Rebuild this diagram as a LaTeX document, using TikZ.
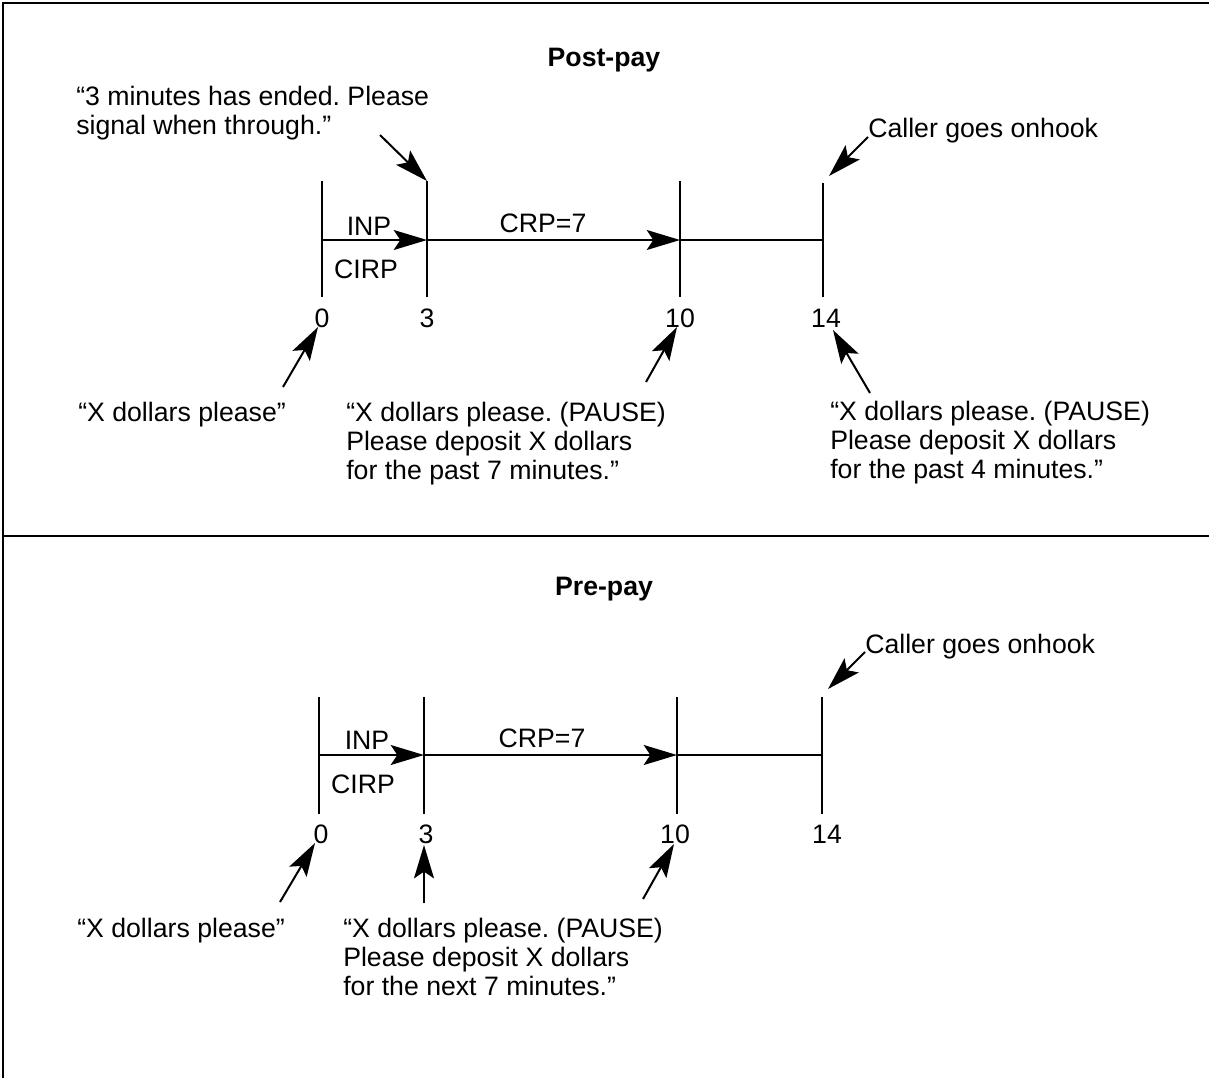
\documentclass[tikz,border=0pt]{standalone}
\usepackage{fontspec}
\setmainfont{Liberation Sans}
\usetikzlibrary{arrows.meta}
\begin{document}
\frenchspacing
\begin{tikzpicture}[
        x=0.75pt, y=-0.75pt,
        every node/.style={font=\fontsize{20pt}{21.75pt}\selectfont, inner sep=0pt},
        lbl/.style={anchor=base},
        note/.style={anchor=base west, align=left},
        heading/.style={anchor=base, font=\fontsize{20pt}{22pt}\selectfont\bfseries},
        timeline/.style={line width=1.8pt},
        pointer/.style={line width=1.5pt, -{Stealth[length=25pt, width=15pt, inset=5pt]}},
        border/.style={line width=0.9pt}
    ]
        \useasboundingbox (0,0) rectangle (1209,1078);
        \coordinate (c1) at (3,3);
        \coordinate (c2) at (1209,3);
        \coordinate (c3) at (3,1078);
        \coordinate (c4) at (3,536);
        \coordinate (c5) at (1209,536);
        \draw[border] (c2) -- (c1) -- (c3);
        \draw[border] (c4) -- (c5);

        \node[heading] (post) at (604,66) {Post-pay};
        \node[note] (ended) at (76,134) {“3 minutes has ended. Please\\signal when through.”};
        \node[note] (hook1) at (868,137) {Caller goes onhook};

        \coordinate (u0) at (322,181);  \coordinate (d0) at (322,297);
        \coordinate (u3) at (427,181);  \coordinate (d3) at (427,297);
        \coordinate (u10) at (680,181); \coordinate (d10) at (680,297);
        \coordinate (u14) at (823,183); \coordinate (d14) at (823,297);
        \coordinate (m0) at (322,240);  \coordinate (m3) at (427,240);
        \coordinate (m10) at (680,240); \coordinate (m14) at (823,240);

        \draw[timeline] (u0) -- (d0);
        \draw[timeline] (u3) -- (d3);
        \draw[timeline] (u10) -- (d10);
        \draw[timeline] (u14) -- (d14);
        \draw[timeline, pointer] (m0) -- (m3);
        \draw[timeline, pointer] (m3) -- (m10);
        \draw[timeline] (m10) -- (m14);

        \node[lbl] (inp1) at (369,235) {INP};
        \node[lbl] (cirp1) at (366,278) {CIRP};
        \node[lbl] (crp1) at (543,232) {CRP=7};
        \node[lbl] (n0) at (322,327) {0};
        \node[lbl] (n3) at (427,327) {3};
        \node[lbl] (n10) at (680,327) {10};
        \node[lbl] (n14) at (826,327) {14};

        \node[note] (xd1) at (78,421) {“X dollars please”};
        \node[note] (past7) at (346,479) {“X dollars please. (PAUSE)\\Please deposit X dollars\\for the past 7 minutes.”};
        \node[note] (past4) at (830,478) {“X dollars please. (PAUSE)\\Please deposit X dollars\\for the past 4 minutes.”};

        \coordinate (e1) at (380,135);
        \coordinate (h1) at (868,137);  \coordinate (h2) at (829,176);
        \coordinate (x1) at (283,387);  \coordinate (x2) at (318,327);
        \coordinate (p1) at (646,382);  \coordinate (p2) at (677,327);
        \coordinate (q1) at (870,393);  \coordinate (q2) at (833,330);
        \draw[pointer] (e1) -- (u3);
        \draw[pointer] (h1) -- (h2);
        \draw[pointer] (x1) -- (x2);
        \draw[pointer] (p1) -- (p2);
        \draw[pointer] (q1) -- (q2);

        \node[heading] (pre) at (604,595) {Pre-pay};
        \node[note] (hook2) at (865,653) {Caller goes onhook};

        \coordinate (v0) at (319,697);  \coordinate (w0) at (319,814);
        \coordinate (v3) at (424,697);  \coordinate (w3) at (424,814);
        \coordinate (v10) at (677,697); \coordinate (w10) at (677,814);
        \coordinate (v14) at (822,697); \coordinate (w14) at (822,814);
        \coordinate (k0) at (319,755);  \coordinate (k3) at (424,755);
        \coordinate (k10) at (677,755); \coordinate (k14) at (822,755);

        \draw[timeline] (v0) -- (w0);
        \draw[timeline] (v3) -- (w3);
        \draw[timeline] (v10) -- (w10);
        \draw[timeline] (v14) -- (w14);
        \draw[timeline, pointer] (k0) -- (k3);
        \draw[timeline, pointer] (k3) -- (k10);
        \draw[timeline] (k10) -- (k14);

        \node[lbl] (inp2) at (367,749) {INP};
        \node[lbl] (cirp2) at (363,793) {CIRP};
        \node[lbl] (crp2) at (542,747) {CRP=7};
        \node[lbl] (r0) at (321,843) {0};
        \node[lbl] (r3) at (426,843) {3};
        \node[lbl] (r10) at (675,843) {10};
        \node[lbl] (r14) at (827,843) {14};

        \node[note] (xd2) at (77,937) {“X dollars please”};
        \node[note] (next7) at (343,995) {“X dollars please. (PAUSE)\\Please deposit X dollars\\for the next 7 minutes.”};

        \coordinate (g1) at (865,652);  \coordinate (g2) at (828,689);
        \coordinate (y1) at (280,902);  \coordinate (y2) at (315,843);
        \coordinate (z1) at (424,903);  \coordinate (z2) at (424,845);
        \coordinate (s1) at (643,899);  \coordinate (s2) at (674,844);
        \draw[pointer] (g1) -- (g2);
        \draw[pointer] (y1) -- (y2);
        \draw[pointer] (z1) -- (z2);
        \draw[pointer] (s1) -- (s2);
    \end{tikzpicture}
\end{document}
